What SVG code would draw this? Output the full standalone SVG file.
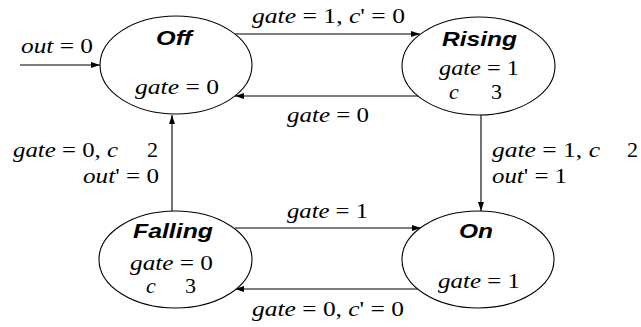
<svg xmlns="http://www.w3.org/2000/svg" width="641" height="327" viewBox="0 0 641 327">
<defs>
<marker id="ah" markerWidth="10" markerHeight="8" refX="9" refY="3" orient="auto" markerUnits="userSpaceOnUse"><path d="M0,0 L9,3 L0,6 Z" fill="#000"/></marker>
<style>
.st{fill:#fff;stroke:#000;stroke-width:1.1}
.n{font-family:"Liberation Sans",Arial,sans-serif;font-weight:bold;font-style:italic;font-size:20.5px;fill:#000}
.m{font-family:"Liberation Serif","Times New Roman",serif;font-size:22px;fill:#000}
.i{font-style:italic}
.e line{stroke:#000;stroke-width:1.1;marker-end:url(#ah)}
</style>
</defs>
<rect width="641" height="327" fill="#fff"/>
<g class="e" id="connectors">
<line x1="20" y1="65" x2="100" y2="65"/>
<line x1="235" y1="34" x2="420" y2="34"/>
<line x1="420" y1="96" x2="235" y2="96"/>
<line x1="172" y1="211" x2="172" y2="115"/>
<line x1="481" y1="115" x2="481" y2="211"/>
<line x1="235" y1="228" x2="421" y2="228"/>
<line x1="420" y1="289" x2="235" y2="289"/>
</g>
<g id="off">
<ellipse class="st" cx="176" cy="65" rx="76" ry="49"/>
<text class="n" x="156" y="45" textLength="36" lengthAdjust="spacingAndGlyphs">Off</text>
<text class="m" x="135" y="94" textLength="84" lengthAdjust="spacingAndGlyphs"><tspan class="i">gate</tspan> = 0</text>
</g>
<g id="rising">
<ellipse class="st" cx="478.5" cy="66" rx="76.5" ry="49"/>
<text class="n" x="442" y="46" textLength="75" lengthAdjust="spacingAndGlyphs">Rising</text>
<text class="m" x="439" y="75" textLength="80" lengthAdjust="spacingAndGlyphs"><tspan class="i">gate</tspan> = 1</text>
<text class="m" y="99"><tspan class="i" x="449">c</tspan><tspan x="491">3</tspan></text>
</g>
<g id="falling">
<ellipse class="st" cx="175.5" cy="259.5" rx="76.5" ry="48.5"/>
<text class="n" x="133" y="238" textLength="80" lengthAdjust="spacingAndGlyphs">Falling</text>
<text class="m" x="130" y="270" textLength="83" lengthAdjust="spacingAndGlyphs"><tspan class="i">gate</tspan> = 0</text>
<text class="m" y="293"><tspan class="i" x="146">c</tspan><tspan x="185">3</tspan></text>
</g>
<g id="on">
<ellipse class="st" cx="478" cy="259.5" rx="76" ry="48.5"/>
<text class="n" x="459" y="238" textLength="34" lengthAdjust="spacingAndGlyphs">On</text>
<text class="m" x="438" y="288" textLength="82" lengthAdjust="spacingAndGlyphs"><tspan class="i">gate</tspan> = 1</text>
</g>
<g id="labels">
<text class="m" x="21" y="53" textLength="72" lengthAdjust="spacingAndGlyphs"><tspan class="i">out</tspan> = 0</text>
<text class="m" x="252" y="23" textLength="153" lengthAdjust="spacingAndGlyphs"><tspan class="i">gate</tspan> = 1, <tspan class="i">c</tspan>' = 0</text>
<text class="m" x="287" y="122" textLength="82" lengthAdjust="spacingAndGlyphs"><tspan class="i">gate</tspan> = 0</text>
<text class="m" x="287" y="218" textLength="81" lengthAdjust="spacingAndGlyphs"><tspan class="i">gate</tspan> = 1</text>
<text class="m" x="252" y="316" textLength="152" lengthAdjust="spacingAndGlyphs"><tspan class="i">gate</tspan> = 0, <tspan class="i">c</tspan>' = 0</text>
<text class="m" x="13" y="157" textLength="105" lengthAdjust="spacingAndGlyphs"><tspan class="i">gate</tspan> = 0, <tspan class="i">c</tspan></text>
<text class="m" x="147" y="157">2</text>
<text class="m" x="83" y="183" textLength="76" lengthAdjust="spacingAndGlyphs"><tspan class="i">out</tspan>' = 0</text>
<text class="m" x="492" y="157" textLength="108" lengthAdjust="spacingAndGlyphs"><tspan class="i">gate</tspan> = 1, <tspan class="i">c</tspan></text>
<text class="m" x="627" y="157">2</text>
<text class="m" x="492" y="183" textLength="75" lengthAdjust="spacingAndGlyphs"><tspan class="i">out</tspan>' = 1</text>
</g>
</svg>
